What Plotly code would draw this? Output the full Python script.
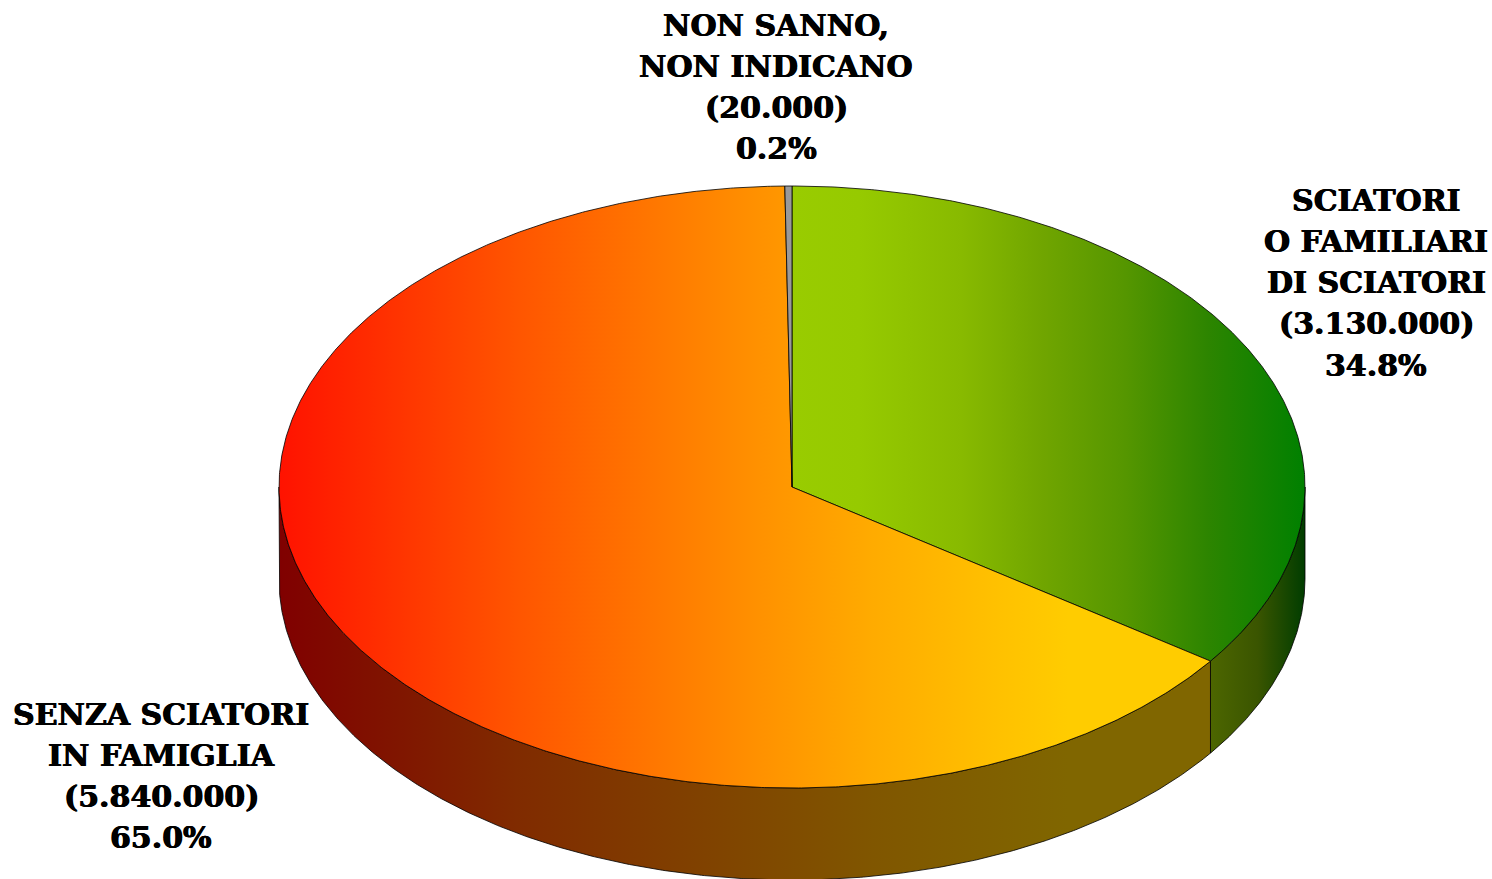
import numpy as np
import plotly.graph_objects as go

# Data
categories = ["SCIATORI O FAMILIARI DI SCIATORI", "SENZA SCIATORI IN FAMIGLIA", "NON SANNO, NON INDICANO"]
values = [3130000, 5840000, 20000]
label_lines = [
    ["SCIATORI", "O FAMILIARI", "DI SCIATORI", "(3.130.000)", "34.8%"],
    ["SENZA SCIATORI", "IN FAMIGLIA", "(5.840.000)", "65.0%"],
    ["NON SANNO,", "NON INDICANO", "(20.000)", "0.2%"],
]

# Layout of the tilted pie
W, H = 1492, 879
CX, CY, RX, RY, DEPTH = 792, 487, 513, 301, 92
LABEL_POS = [(1376, 200), (161, 714), (776, 25)]
LINE_PITCH = 41.3
FONT_SIZE = 30

TOP_SCALES = [
    [[0, "#99CC00"], [0.13, "#96CA00"], [0.33, "#88BA00"], [0.49, "#70A500"],
     [0.65, "#559600"], [0.81, "#2D8500"], [1, "#008000"]],
    [[0, "#FF1200"], [0.255, "#FF5500"], [0.51, "#FF9000"], [0.637, "#FFAB00"],
     [0.765, "#FFC000"], [0.847, "#FFCC00"], [1, "#FFCC00"]],
    [[0, "#999999"], [1, "#999999"]],
]
SIDE_SCALES = [
    [[0, "#4D6600"], [0.5, "#3A5500"], [1, "#003D00"]],
    [[0, "#800000"], [0.255, "#802B00"], [0.51, "#804800"], [0.637, "#805600"],
     [0.765, "#806000"], [0.847, "#806600"], [1, "#806600"]],
    [[0, "#4D4D4D"], [1, "#4D4D4D"]],
]

fracs = np.array(values, dtype=float) / sum(values)
ends = np.cumsum(fracs) * 2 * np.pi
starts = ends - fracs * 2 * np.pi


def arc(a, b, dy=0.0):
    n = max(2, int(abs(b - a) * 180))
    t = np.linspace(a, b, n)
    return CX + RX * np.sin(t), CY - RY * np.cos(t) + dy


fig = go.Figure()


def add_poly(x, y, scale, name):
    fig.add_trace(go.Scatter(
        x=x, y=y, mode="lines", fill="toself", name=name,
        line=dict(color="#000000", width=0.8),
        fillgradient=dict(type="horizontal", colorscale=scale,
                          start=float(np.min(x)), stop=float(np.max(x))),
        hoverinfo="name", showlegend=False,
    ))


# side walls: only the front half (angles between 90 and 270 degrees) shows
for i, name in enumerate(categories):
    a = max(starts[i], np.pi / 2)
    b = min(ends[i], 3 * np.pi / 2)
    if b > a:
        xt, yt = arc(a, b)
        xb, yb = arc(a, b, DEPTH)
        add_poly(np.r_[xt, xb[::-1], xt[0]], np.r_[yt, yb[::-1], yt[0]], SIDE_SCALES[i], name)

# top faces
for i, name in enumerate(categories):
    xt, yt = arc(starts[i], ends[i])
    add_poly(np.r_[CX, xt, CX], np.r_[CY, yt, CY], TOP_SCALES[i], name)

annotations = []
for lines, (lx, ly) in zip(label_lines, LABEL_POS):
    for k, line in enumerate(lines):
        annotations.append(dict(
            x=lx, y=ly + k * LINE_PITCH, text=line, showarrow=False,
            xanchor="center", yanchor="middle",
            font=dict(family="DejaVu Serif", size=FONT_SIZE, color="#000000", weight="bold",
                      shadow="0.5px 0 0 #000000, -0.5px 0 0 #000000"),
        ))

fig.update_layout(
    width=W, height=H, margin=dict(l=0, r=0, t=0, b=0),
    paper_bgcolor="#FFFFFF", plot_bgcolor="#FFFFFF",
    xaxis=dict(range=[0, W], visible=False, fixedrange=True),
    yaxis=dict(range=[H, 0], visible=False, fixedrange=True),
    annotations=annotations, showlegend=False,
)

fig.write_html("out.html", config=dict(displayModeBar=False),
               post_script="document.body.style.margin='0';document.body.style.overflow='hidden';")
